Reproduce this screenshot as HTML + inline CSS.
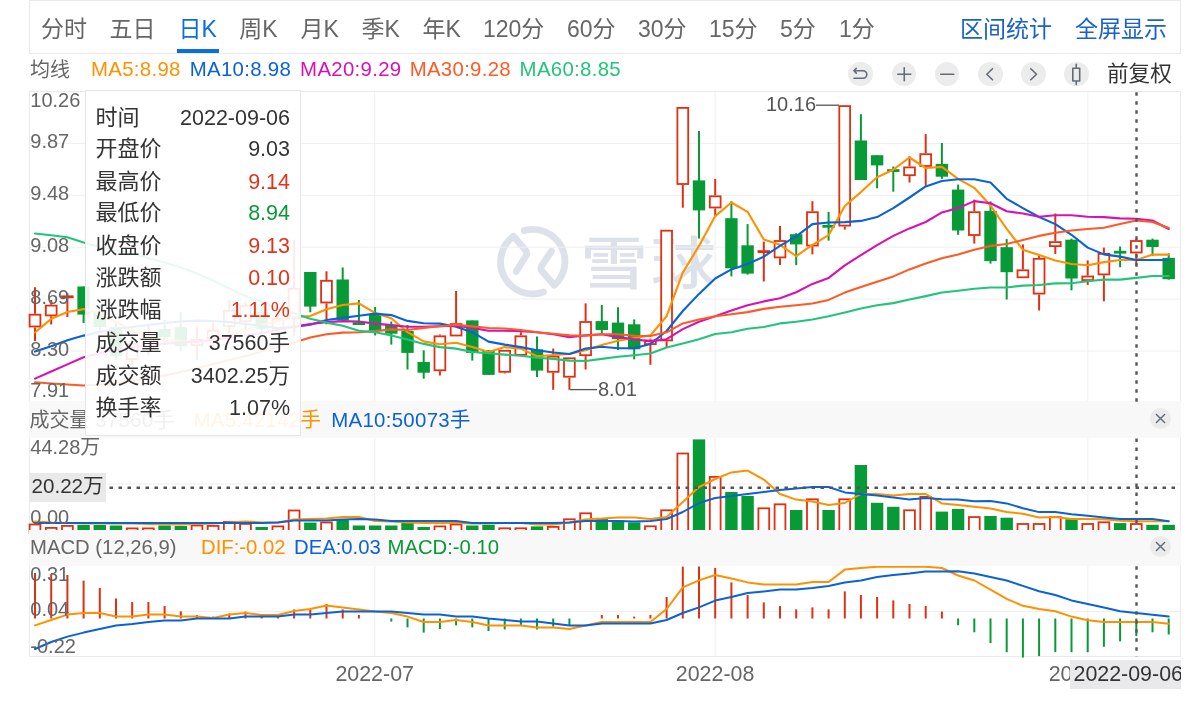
<!DOCTYPE html><html lang="zh-CN"><head><meta charset="utf-8"><title>K线图</title><style>
html,body{margin:0;padding:0;background:#fff;}
body{width:1199px;height:703px;position:relative;overflow:hidden;font-family:'Liberation Sans','Noto Sans CJK SC',sans-serif;color:#666;}
.abs{position:absolute;white-space:nowrap;}
#tabbar{position:absolute;left:29px;top:0px;width:1152px;height:54px;border:1px solid #e9e9ed;box-sizing:border-box;}
.tab{position:absolute;top:13.2px;font-size:23px;line-height:32px;color:#666;white-space:nowrap;}
.tab.on{color:#0a6fdc;}
.lnk{position:absolute;top:13.2px;font-size:23px;line-height:32px;color:#1a62c6;white-space:nowrap;}
.lg{position:absolute;font-size:20.4px;line-height:26px;white-space:nowrap;letter-spacing:0.3px;}
.lg2{letter-spacing:0 !important;}
.yl{position:absolute;left:30.3px;font-size:20px;line-height:22px;color:#666;white-space:nowrap;}
.hdr{position:absolute;left:29px;width:1152px;background:#f8f8f8;}
.ic{position:absolute;top:61.5px;width:24.5px;height:24.5px;border-radius:50%;background:#ececec;}
.ic svg{position:absolute;left:0;top:0;}
.cl{position:absolute;left:1150px;width:21px;height:21px;border-radius:50%;background:#ebebeb;}
#tip{position:absolute;left:85px;top:90px;width:216px;height:346px;box-sizing:border-box;border:1px solid #e6e6ea;background:rgba(255,255,255,0.9);}
#tip .r{position:absolute;left:10.5px;right:10px;height:32px;font-size:21.5px;line-height:32px;color:#333;}
#tip .r b{font-weight:400;position:absolute;right:0;top:0;}
#tip .r i{font-style:normal;position:absolute;left:-1px;top:0;font-size:22px;}
.red{color:#e0341a !important;} .grn{color:#089a36 !important;}
</style></head><body>
<div id="tabbar"></div>
<div class="tab" style="left:41px">分时</div>
<div class="tab" style="left:109.5px">五日</div>
<div class="tab on" style="left:178.5px">日K</div>
<div class="tab" style="left:239.3px">周K</div>
<div class="tab" style="left:300.5px">月K</div>
<div class="tab" style="left:361.5px">季K</div>
<div class="tab" style="left:422.5px">年K</div>
<div class="tab" style="left:483px">120分</div>
<div class="tab" style="left:567px">60分</div>
<div class="tab" style="left:638px">30分</div>
<div class="tab" style="left:709px">15分</div>
<div class="tab" style="left:780px">5分</div>
<div class="tab" style="left:839px">1分</div>
<div class="abs" style="left:177px;top:48.5px;width:41.7px;height:4.7px;background:#0a6fdc"></div>
<div class="lnk" style="left:960px">区间统计</div><div class="lnk" style="left:1075px">全屏显示</div>
<div class="lg" style="left:30px;top:56.5px;color:#666;font-size:20px;letter-spacing:0">均线</div>
<div class="lg" style="left:91px;top:56px;color:#ff9100">MA5:8.98</div>
<div class="lg" style="left:189.8px;top:56px;color:#0b62d6">MA10:8.98</div>
<div class="lg" style="left:300.1px;top:56px;color:#d712b4">MA20:9.29</div>
<div class="lg" style="left:409.7px;top:56px;color:#ff5a26">MA30:9.28</div>
<div class="lg" style="left:519.6px;top:56px;color:#22c47c">MA60:8.85</div>
<div class="ic" style="left:848.45px"><svg width="24.5" height="24.5" viewBox="0 0 24.5 24.5" fill="none" stroke="#626b78" stroke-width="1.6" stroke-linecap="round" stroke-linejoin="round"><path d="M6 8.7 H15 A3.8 3.8 0 0 1 15 16.3 H6 M8.3 6.3 L5.9 8.7 L8.3 11.1" /></svg></div>
<div class="ic" style="left:891.55px"><svg width="24.5" height="24.5" viewBox="0 0 24.5 24.5" fill="none" stroke="#626b78" stroke-width="1.6" stroke-linecap="round" stroke-linejoin="round"><path d="M12.25 5.75 V18.75 M5.75 12.25 H18.75"/></svg></div>
<div class="ic" style="left:934.55px"><svg width="24.5" height="24.5" viewBox="0 0 24.5 24.5" fill="none" stroke="#626b78" stroke-width="1.6" stroke-linecap="round" stroke-linejoin="round"><path d="M5.75 12.25 H18.75"/></svg></div>
<div class="ic" style="left:978.15px"><svg width="24.5" height="24.5" viewBox="0 0 24.5 24.5" fill="none" stroke="#626b78" stroke-width="1.6" stroke-linecap="round" stroke-linejoin="round"><path d="M14.5 6.7 L8.8 12.25 L14.5 17.8"/></svg></div>
<div class="ic" style="left:1021.45px"><svg width="24.5" height="24.5" viewBox="0 0 24.5 24.5" fill="none" stroke="#626b78" stroke-width="1.6" stroke-linecap="round" stroke-linejoin="round"><path d="M9.8 6.7 L15.5 12.25 L9.8 17.8"/></svg></div>
<div class="ic" style="left:1064.45px"><svg width="24.5" height="24.5" viewBox="0 0 24.5 24.5" fill="none" stroke="#626b78" stroke-width="1.6" stroke-linecap="round" stroke-linejoin="round"><path d="M12.25 2.3 V6.3 M12.25 19 V22.6 M8.8 6.3 H15.7 V19 H8.8 Z"/></svg></div>
<div class="abs" style="left:1107px;top:59px;font-size:21.6px;line-height:30px;color:#333">前复权</div>
<svg class="abs" style="left:0;top:0" width="1199" height="703" viewBox="0 0 1199 703">
<g fill="none" stroke="#dde1ea" stroke-width="6.8" stroke-linecap="round" stroke-linejoin="round">
<path transform="translate(1.2,-0.8)" d="M542.3 292.8 A32 32 0 0 1 512.2 237.1 L524.2 250.8 Q526.8 253.6 524.6 257 L515 272.3"/>
<path transform="translate(1.2,-0.8)" d="M523 231.4 A32 32 0 0 1 553.1 286 L541.1 272.4 Q538.5 269.6 540.7 266.2 L550.3 251.9"/>
</g>
<g font-size="57" font-weight="500" fill="#dde1ea" font-family="'Liberation Sans','Noto Sans CJK SC',sans-serif"><text transform="translate(580.5,283.5) scale(1.18,1)">雪</text><text transform="translate(651,283.5) scale(1.14,1)">球</text></g>
<line x1="30" y1="143.4" x2="1181" y2="143.4" stroke="#efeff1" stroke-width="1"/>
<line x1="30" y1="195.3" x2="1181" y2="195.3" stroke="#efeff1" stroke-width="1"/>
<line x1="30" y1="247.2" x2="1181" y2="247.2" stroke="#efeff1" stroke-width="1"/>
<line x1="30" y1="299.1" x2="1181" y2="299.1" stroke="#efeff1" stroke-width="1"/>
<line x1="30" y1="351" x2="1181" y2="351" stroke="#efeff1" stroke-width="1"/>
<line x1="374.7" y1="91.5" x2="374.7" y2="403" stroke="#efeff1" stroke-width="1"/>
<line x1="374.7" y1="438.5" x2="374.7" y2="530" stroke="#efeff1" stroke-width="1"/>
<line x1="374.7" y1="566" x2="374.7" y2="656.5" stroke="#efeff1" stroke-width="1"/>
<line x1="715.1" y1="91.5" x2="715.1" y2="403" stroke="#efeff1" stroke-width="1"/>
<line x1="715.1" y1="438.5" x2="715.1" y2="530" stroke="#efeff1" stroke-width="1"/>
<line x1="715.1" y1="566" x2="715.1" y2="656.5" stroke="#efeff1" stroke-width="1"/>
<line x1="1087.9" y1="91.5" x2="1087.9" y2="403" stroke="#efeff1" stroke-width="1"/>
<line x1="1087.9" y1="438.5" x2="1087.9" y2="530" stroke="#efeff1" stroke-width="1"/>
<line x1="1087.9" y1="566" x2="1087.9" y2="656.5" stroke="#efeff1" stroke-width="1"/>
<line x1="30" y1="484" x2="1181" y2="484" stroke="#efeff1"/>
<line x1="30" y1="611.5" x2="1181" y2="611.5" stroke="#efeff1"/>
<rect x="29.5" y="91.5" width="1151" height="565" fill="none" stroke="#eaeaed" stroke-width="1"/>
<line x1="35" y1="287.3" x2="35" y2="313.8" stroke="#df3012" stroke-width="2"/>
<line x1="35" y1="327.4" x2="35" y2="341" stroke="#df3012" stroke-width="2"/>
<rect x="29.6" y="314.7" width="10.8" height="11.8" fill="#fff" stroke="#df3012" stroke-width="1.8"/>
<line x1="51.2" y1="300" x2="51.2" y2="304.7" stroke="#df3012" stroke-width="2"/>
<line x1="51.2" y1="316.3" x2="51.2" y2="324.5" stroke="#df3012" stroke-width="2"/>
<rect x="45.8" y="305.6" width="10.8" height="9.8" fill="#fff" stroke="#df3012" stroke-width="1.8"/>
<line x1="67.4" y1="293" x2="67.4" y2="296" stroke="#df3012" stroke-width="2"/>
<line x1="67.4" y1="297.6" x2="67.4" y2="317" stroke="#df3012" stroke-width="2"/>
<rect x="61.2" y="295.4" width="12.4" height="2.8" fill="#df3012"/>
<line x1="83.6" y1="286.5" x2="83.6" y2="323" stroke="#089a36" stroke-width="2"/>
<rect x="77.4" y="286.5" width="12.4" height="28.1" fill="#089a36"/>
<line x1="99.8" y1="305" x2="99.8" y2="332" stroke="#089a36" stroke-width="2"/>
<rect x="93.6" y="312" width="12.4" height="15" fill="#089a36"/>
<line x1="116" y1="322" x2="116" y2="360" stroke="#089a36" stroke-width="2"/>
<rect x="109.8" y="327" width="12.4" height="29" fill="#089a36"/>
<line x1="132.2" y1="338" x2="132.2" y2="343" stroke="#df3012" stroke-width="2"/>
<line x1="132.2" y1="360" x2="132.2" y2="365" stroke="#df3012" stroke-width="2"/>
<rect x="126.8" y="343.9" width="10.8" height="15.2" fill="#fff" stroke="#df3012" stroke-width="1.8"/>
<line x1="148.4" y1="325" x2="148.4" y2="335" stroke="#df3012" stroke-width="2"/>
<line x1="148.4" y1="350" x2="148.4" y2="355" stroke="#df3012" stroke-width="2"/>
<rect x="143" y="335.9" width="10.8" height="13.2" fill="#fff" stroke="#df3012" stroke-width="1.8"/>
<line x1="164.6" y1="320" x2="164.6" y2="345" stroke="#089a36" stroke-width="2"/>
<rect x="158.4" y="329" width="12.4" height="8" fill="#089a36"/>
<line x1="180.8" y1="312" x2="180.8" y2="351" stroke="#089a36" stroke-width="2"/>
<rect x="174.6" y="327" width="12.4" height="19" fill="#089a36"/>
<line x1="196.9" y1="327" x2="196.9" y2="339" stroke="#df3012" stroke-width="2"/>
<line x1="196.9" y1="346" x2="196.9" y2="360" stroke="#df3012" stroke-width="2"/>
<rect x="191.6" y="339.9" width="10.8" height="5.2" fill="#fff" stroke="#df3012" stroke-width="1.8"/>
<line x1="213.1" y1="322" x2="213.1" y2="330" stroke="#df3012" stroke-width="2"/>
<line x1="213.1" y1="340" x2="213.1" y2="348" stroke="#df3012" stroke-width="2"/>
<rect x="207.7" y="330.9" width="10.8" height="8.2" fill="#fff" stroke="#df3012" stroke-width="1.8"/>
<line x1="229.3" y1="300" x2="229.3" y2="310" stroke="#df3012" stroke-width="2"/>
<line x1="229.3" y1="327" x2="229.3" y2="335" stroke="#df3012" stroke-width="2"/>
<rect x="223.9" y="310.9" width="10.8" height="15.2" fill="#fff" stroke="#df3012" stroke-width="1.8"/>
<line x1="245.5" y1="302" x2="245.5" y2="305" stroke="#df3012" stroke-width="2"/>
<line x1="245.5" y1="322" x2="245.5" y2="330" stroke="#df3012" stroke-width="2"/>
<rect x="240.1" y="305.9" width="10.8" height="15.2" fill="#fff" stroke="#df3012" stroke-width="1.8"/>
<line x1="261.7" y1="305" x2="261.7" y2="335" stroke="#089a36" stroke-width="2"/>
<rect x="255.5" y="312" width="12.4" height="17" fill="#089a36"/>
<line x1="277.9" y1="310" x2="277.9" y2="318" stroke="#df3012" stroke-width="2"/>
<line x1="277.9" y1="330" x2="277.9" y2="338" stroke="#df3012" stroke-width="2"/>
<rect x="272.5" y="318.9" width="10.8" height="10.2" fill="#fff" stroke="#df3012" stroke-width="1.8"/>
<line x1="294.1" y1="240" x2="294.1" y2="288" stroke="#df3012" stroke-width="2"/>
<line x1="294.1" y1="319" x2="294.1" y2="336" stroke="#df3012" stroke-width="2"/>
<rect x="288.7" y="288.9" width="10.8" height="29.2" fill="#fff" stroke="#df3012" stroke-width="1.8"/>
<line x1="310.3" y1="272" x2="310.3" y2="312.3" stroke="#089a36" stroke-width="2"/>
<rect x="304.1" y="272" width="12.4" height="34.6" fill="#089a36"/>
<line x1="326.5" y1="271.3" x2="326.5" y2="279.9" stroke="#df3012" stroke-width="2"/>
<line x1="326.5" y1="303.4" x2="326.5" y2="324.3" stroke="#df3012" stroke-width="2"/>
<rect x="321.1" y="280.8" width="10.8" height="21.7" fill="#fff" stroke="#df3012" stroke-width="1.8"/>
<line x1="342.7" y1="267.5" x2="342.7" y2="320.4" stroke="#089a36" stroke-width="2"/>
<rect x="336.5" y="279.5" width="12.4" height="40.9" fill="#089a36"/>
<line x1="358.9" y1="300" x2="358.9" y2="324.7" stroke="#089a36" stroke-width="2"/>
<rect x="352.7" y="322.2" width="12.4" height="2.8" fill="#089a36"/>
<line x1="375.1" y1="307" x2="375.1" y2="335.4" stroke="#089a36" stroke-width="2"/>
<rect x="368.9" y="315" width="12.4" height="15.7" fill="#089a36"/>
<line x1="391.3" y1="321.5" x2="391.3" y2="344.6" stroke="#089a36" stroke-width="2"/>
<rect x="385.1" y="324.7" width="12.4" height="9" fill="#089a36"/>
<line x1="407.5" y1="325" x2="407.5" y2="369.5" stroke="#089a36" stroke-width="2"/>
<rect x="401.3" y="331" width="12.4" height="21.9" fill="#089a36"/>
<line x1="423.7" y1="350.3" x2="423.7" y2="378.7" stroke="#089a36" stroke-width="2"/>
<rect x="417.5" y="362" width="12.4" height="10.7" fill="#089a36"/>
<line x1="439.9" y1="334.5" x2="439.9" y2="335.4" stroke="#df3012" stroke-width="2"/>
<line x1="439.9" y1="371.2" x2="439.9" y2="375.5" stroke="#df3012" stroke-width="2"/>
<rect x="434.5" y="336.3" width="10.8" height="34" fill="#fff" stroke="#df3012" stroke-width="1.8"/>
<line x1="456.1" y1="291" x2="456.1" y2="323.2" stroke="#df3012" stroke-width="2"/>
<rect x="450.7" y="324.1" width="10.8" height="11.4" fill="#fff" stroke="#df3012" stroke-width="1.8"/>
<line x1="472.3" y1="320.4" x2="472.3" y2="360.6" stroke="#089a36" stroke-width="2"/>
<rect x="466.1" y="320.4" width="12.4" height="32.5" fill="#089a36"/>
<line x1="488.5" y1="350.3" x2="488.5" y2="374.9" stroke="#089a36" stroke-width="2"/>
<rect x="482.3" y="350.3" width="12.4" height="24.6" fill="#089a36"/>
<line x1="504.7" y1="372.7" x2="504.7" y2="373.5" stroke="#df3012" stroke-width="2"/>
<rect x="499.3" y="350.8" width="10.8" height="21" fill="#fff" stroke="#df3012" stroke-width="1.8"/>
<line x1="520.9" y1="332.2" x2="520.9" y2="335.4" stroke="#df3012" stroke-width="2"/>
<rect x="515.4" y="336.3" width="10.8" height="18.5" fill="#fff" stroke="#df3012" stroke-width="1.8"/>
<line x1="537" y1="336.4" x2="537" y2="377" stroke="#089a36" stroke-width="2"/>
<rect x="530.8" y="349.3" width="12.4" height="21.3" fill="#089a36"/>
<line x1="553.2" y1="348.6" x2="553.2" y2="355.7" stroke="#df3012" stroke-width="2"/>
<line x1="553.2" y1="372.7" x2="553.2" y2="389.8" stroke="#df3012" stroke-width="2"/>
<rect x="547.8" y="356.6" width="10.8" height="15.2" fill="#fff" stroke="#df3012" stroke-width="1.8"/>
<line x1="569.4" y1="377.6" x2="569.4" y2="389.8" stroke="#df3012" stroke-width="2"/>
<rect x="564" y="358.3" width="10.8" height="18.4" fill="#fff" stroke="#df3012" stroke-width="1.8"/>
<line x1="585.6" y1="303.4" x2="585.6" y2="321.1" stroke="#df3012" stroke-width="2"/>
<line x1="585.6" y1="356.1" x2="585.6" y2="369.5" stroke="#df3012" stroke-width="2"/>
<rect x="580.2" y="322" width="10.8" height="33.2" fill="#fff" stroke="#df3012" stroke-width="1.8"/>
<line x1="601.8" y1="305" x2="601.8" y2="333.2" stroke="#089a36" stroke-width="2"/>
<rect x="595.6" y="321.1" width="12.4" height="8.9" fill="#089a36"/>
<line x1="618" y1="307.2" x2="618" y2="349.9" stroke="#089a36" stroke-width="2"/>
<rect x="611.8" y="322.6" width="12.4" height="16.6" fill="#089a36"/>
<line x1="634.2" y1="319.4" x2="634.2" y2="359.3" stroke="#089a36" stroke-width="2"/>
<rect x="628" y="324.3" width="12.4" height="25" fill="#089a36"/>
<line x1="650.4" y1="338.6" x2="650.4" y2="339.6" stroke="#df3012" stroke-width="2"/>
<line x1="650.4" y1="345" x2="650.4" y2="364.8" stroke="#df3012" stroke-width="2"/>
<rect x="645" y="340.5" width="10.8" height="3.6" fill="#fff" stroke="#df3012" stroke-width="1.8"/>
<line x1="666.6" y1="341.3" x2="666.6" y2="347" stroke="#df3012" stroke-width="2"/>
<rect x="661.2" y="230.7" width="10.8" height="109.7" fill="#fff" stroke="#df3012" stroke-width="1.8"/>
<line x1="682.8" y1="184.9" x2="682.8" y2="207.7" stroke="#df3012" stroke-width="2"/>
<rect x="677.4" y="107.9" width="10.8" height="76.1" fill="#fff" stroke="#df3012" stroke-width="1.8"/>
<line x1="699" y1="130.9" x2="699" y2="238.4" stroke="#089a36" stroke-width="2"/>
<rect x="692.8" y="180.4" width="12.4" height="30" fill="#089a36"/>
<line x1="715.2" y1="178.9" x2="715.2" y2="195.4" stroke="#df3012" stroke-width="2"/>
<line x1="715.2" y1="208.4" x2="715.2" y2="216.5" stroke="#df3012" stroke-width="2"/>
<rect x="709.8" y="196.3" width="10.8" height="11.2" fill="#fff" stroke="#df3012" stroke-width="1.8"/>
<line x1="731.4" y1="201.2" x2="731.4" y2="276.4" stroke="#089a36" stroke-width="2"/>
<rect x="725.2" y="218.2" width="12.4" height="50.1" fill="#089a36"/>
<line x1="747.6" y1="224.1" x2="747.6" y2="274.7" stroke="#089a36" stroke-width="2"/>
<rect x="741.4" y="245.3" width="12.4" height="28.3" fill="#089a36"/>
<line x1="763.8" y1="241.6" x2="763.8" y2="250.5" stroke="#df3012" stroke-width="2"/>
<line x1="763.8" y1="252.6" x2="763.8" y2="281.5" stroke="#df3012" stroke-width="2"/>
<rect x="757.6" y="250.2" width="12.4" height="2.8" fill="#df3012"/>
<line x1="780" y1="226.1" x2="780" y2="240.1" stroke="#df3012" stroke-width="2"/>
<line x1="780" y1="258.3" x2="780" y2="265.1" stroke="#df3012" stroke-width="2"/>
<rect x="774.6" y="241" width="10.8" height="16.4" fill="#fff" stroke="#df3012" stroke-width="1.8"/>
<line x1="796.2" y1="233.2" x2="796.2" y2="265.1" stroke="#089a36" stroke-width="2"/>
<rect x="790" y="234.2" width="12.4" height="10.2" fill="#089a36"/>
<line x1="812.4" y1="201.2" x2="812.4" y2="211.3" stroke="#df3012" stroke-width="2"/>
<line x1="812.4" y1="246.5" x2="812.4" y2="254.4" stroke="#df3012" stroke-width="2"/>
<rect x="807" y="212.2" width="10.8" height="33.4" fill="#fff" stroke="#df3012" stroke-width="1.8"/>
<line x1="828.6" y1="211.8" x2="828.6" y2="240.6" stroke="#089a36" stroke-width="2"/>
<rect x="822.4" y="224.9" width="12.4" height="2.8" fill="#089a36"/>
<line x1="844.8" y1="226.5" x2="844.8" y2="229.6" stroke="#df3012" stroke-width="2"/>
<rect x="839.3" y="106.1" width="10.8" height="119.5" fill="#fff" stroke="#df3012" stroke-width="1.8"/>
<line x1="860.9" y1="114.2" x2="860.9" y2="180" stroke="#089a36" stroke-width="2"/>
<rect x="854.7" y="140.5" width="12.4" height="39.5" fill="#089a36"/>
<line x1="877.1" y1="155.2" x2="877.1" y2="188.3" stroke="#089a36" stroke-width="2"/>
<rect x="870.9" y="155.2" width="12.4" height="10.2" fill="#089a36"/>
<line x1="893.3" y1="166.5" x2="893.3" y2="191.7" stroke="#089a36" stroke-width="2"/>
<rect x="887.1" y="169.2" width="12.4" height="2.8" fill="#089a36"/>
<line x1="909.5" y1="156.3" x2="909.5" y2="166.5" stroke="#df3012" stroke-width="2"/>
<line x1="909.5" y1="176.1" x2="909.5" y2="182.5" stroke="#df3012" stroke-width="2"/>
<rect x="904.1" y="167.4" width="10.8" height="7.8" fill="#fff" stroke="#df3012" stroke-width="1.8"/>
<line x1="925.7" y1="134.1" x2="925.7" y2="153.3" stroke="#df3012" stroke-width="2"/>
<line x1="925.7" y1="166.9" x2="925.7" y2="185.7" stroke="#df3012" stroke-width="2"/>
<rect x="920.3" y="154.2" width="10.8" height="11.8" fill="#fff" stroke="#df3012" stroke-width="1.8"/>
<line x1="941.9" y1="143" x2="941.9" y2="178.9" stroke="#089a36" stroke-width="2"/>
<rect x="935.7" y="163.9" width="12.4" height="12.8" fill="#089a36"/>
<line x1="958.1" y1="184.6" x2="958.1" y2="234.8" stroke="#089a36" stroke-width="2"/>
<rect x="951.9" y="189.6" width="12.4" height="40.9" fill="#089a36"/>
<line x1="974.3" y1="199.6" x2="974.3" y2="211.3" stroke="#df3012" stroke-width="2"/>
<line x1="974.3" y1="235.9" x2="974.3" y2="243.6" stroke="#df3012" stroke-width="2"/>
<rect x="968.9" y="212.2" width="10.8" height="22.8" fill="#fff" stroke="#df3012" stroke-width="1.8"/>
<line x1="990.5" y1="201.4" x2="990.5" y2="263.6" stroke="#089a36" stroke-width="2"/>
<rect x="984.3" y="210.9" width="12.4" height="50.2" fill="#089a36"/>
<line x1="1006.7" y1="239.1" x2="1006.7" y2="299.5" stroke="#089a36" stroke-width="2"/>
<rect x="1000.5" y="247.2" width="12.4" height="25" fill="#089a36"/>
<line x1="1022.9" y1="244.4" x2="1022.9" y2="269.4" stroke="#df3012" stroke-width="2"/>
<rect x="1017.5" y="270.3" width="10.8" height="7" fill="#fff" stroke="#df3012" stroke-width="1.8"/>
<line x1="1039.1" y1="255" x2="1039.1" y2="257.9" stroke="#df3012" stroke-width="2"/>
<line x1="1039.1" y1="294.5" x2="1039.1" y2="310.5" stroke="#df3012" stroke-width="2"/>
<rect x="1033.7" y="258.8" width="10.8" height="34.8" fill="#fff" stroke="#df3012" stroke-width="1.8"/>
<line x1="1055.3" y1="213.5" x2="1055.3" y2="241.2" stroke="#df3012" stroke-width="2"/>
<line x1="1055.3" y1="247" x2="1055.3" y2="254" stroke="#df3012" stroke-width="2"/>
<rect x="1049.9" y="242.1" width="10.8" height="4" fill="#fff" stroke="#df3012" stroke-width="1.8"/>
<line x1="1071.5" y1="238.6" x2="1071.5" y2="290.3" stroke="#089a36" stroke-width="2"/>
<rect x="1065.3" y="239.7" width="12.4" height="38.8" fill="#089a36"/>
<line x1="1087.7" y1="260.4" x2="1087.7" y2="275.6" stroke="#df3012" stroke-width="2"/>
<line x1="1087.7" y1="281" x2="1087.7" y2="284.9" stroke="#df3012" stroke-width="2"/>
<rect x="1082.3" y="276.5" width="10.8" height="3.6" fill="#fff" stroke="#df3012" stroke-width="1.8"/>
<line x1="1103.9" y1="247.6" x2="1103.9" y2="252.9" stroke="#df3012" stroke-width="2"/>
<line x1="1103.9" y1="275.3" x2="1103.9" y2="301.3" stroke="#df3012" stroke-width="2"/>
<rect x="1098.5" y="253.8" width="10.8" height="20.6" fill="#fff" stroke="#df3012" stroke-width="1.8"/>
<line x1="1120.1" y1="246.5" x2="1120.1" y2="267.2" stroke="#089a36" stroke-width="2"/>
<rect x="1113.9" y="250.8" width="12.4" height="2.8" fill="#089a36"/>
<line x1="1136.3" y1="238.8" x2="1136.3" y2="240.1" stroke="#df3012" stroke-width="2"/>
<line x1="1136.3" y1="253.4" x2="1136.3" y2="265.6" stroke="#df3012" stroke-width="2"/>
<rect x="1130.9" y="241" width="10.8" height="11.5" fill="#fff" stroke="#df3012" stroke-width="1.8"/>
<line x1="1152.5" y1="238.6" x2="1152.5" y2="256.1" stroke="#089a36" stroke-width="2"/>
<rect x="1146.3" y="239.7" width="12.4" height="7.3" fill="#089a36"/>
<line x1="1168.7" y1="253.4" x2="1168.7" y2="279.6" stroke="#089a36" stroke-width="2"/>
<rect x="1162.5" y="257.8" width="12.4" height="21.4" fill="#089a36"/>
<polyline points="35,332.5 51.2,318.9 67.4,312 83.6,309.1 99.8,313 116,322 132.2,331 148.4,337 164.6,340 180.8,341 196.9,342 213.1,340 229.3,336 245.5,330 261.7,325 277.9,321 294.1,317 310.3,316 326.5,309.3 342.7,305 358.9,303.4 375.1,313 391.3,318.3 407.5,332.2 423.7,341.4 439.9,344.3 456.1,342.8 472.3,347.1 488.5,352 504.7,347.1 520.9,348.6 537,356.3 553.2,355 569.4,354 585.6,350.3 601.8,345 618,340.7 634.2,338 650.4,335.4 666.6,316.2 682.8,272.6 699,245.9 715.2,216.1 731.4,202.5 747.6,211.8 763.8,239.5 780,244.8 796.2,256.1 812.4,244.8 828.6,235.2 844.8,206 860.9,192.1 877.1,177.2 893.3,169.7 909.5,157.5 925.7,168 941.9,166.9 958.1,178.9 974.3,187.8 990.5,205.5 1006.7,228.8 1022.9,249.8 1039.1,255.1 1055.3,260.4 1071.5,264 1087.7,265.3 1103.9,262.1 1120.1,260 1136.3,260 1152.5,254.6 1168.7,254.6" fill="none" stroke="#ff9100" stroke-width="2.1" stroke-linejoin="round" stroke-linecap="round"/>
<polyline points="35,351.6 51.2,346.2 67.4,340.2 83.6,335.6 99.8,332 116,329 132.2,327 148.4,325 164.6,323 180.8,321.5 196.9,320.6 213.1,321 229.3,322 245.5,324 261.7,326 277.9,328 294.1,327 310.3,324.7 326.5,320 342.7,317.9 358.9,315.7 375.1,313.6 391.3,315.1 407.5,320.9 423.7,323.2 439.9,323.6 456.1,326.8 472.3,332.2 488.5,341.6 504.7,344.6 520.9,347.1 537,350.3 553.2,352.5 569.4,354 585.6,348.6 601.8,346.7 618,348.2 634.2,348.2 650.4,343.9 666.6,331 682.8,311 699,293.9 715.2,278.5 731.4,269.4 747.6,264 763.8,256.6 780,245.9 796.2,236.3 812.4,224.1 828.6,222.5 844.8,222.1 860.9,220.9 877.1,217.1 893.3,208.1 909.5,197.5 925.7,186.4 941.9,181 958.1,179.3 974.3,179.3 990.5,182.5 1006.7,198.8 1022.9,208.1 1039.1,217 1055.3,224.1 1071.5,234.8 1087.7,247.6 1103.9,254.4 1120.1,256.6 1136.3,260 1152.5,260 1168.7,260" fill="none" stroke="#0b62d6" stroke-width="2.1" stroke-linejoin="round" stroke-linecap="round"/>
<polyline points="35,378.6 51.2,371.5 67.4,364.4 83.6,357.3 99.8,353 116,350 132.2,347.5 148.4,345.5 164.6,343.7 180.8,342.5 196.9,341.3 213.1,340 229.3,338 245.5,335.5 261.7,333 277.9,330 294.1,326.5 310.3,324 326.5,322.1 342.7,321.1 358.9,321.5 375.1,323.6 391.3,325.1 407.5,326.8 423.7,326.8 439.9,326.2 456.1,325.8 472.3,327.9 488.5,330.7 504.7,330.7 520.9,331.1 537,332.2 553.2,334.3 569.4,337.1 585.6,335.4 601.8,334.3 618,337.1 634.2,339.2 650.4,341.4 666.6,339.2 682.8,329.1 699,321.7 715.2,316.3 731.4,310.6 747.6,305.2 763.8,301.4 780,298.2 796.2,292.2 812.4,283.9 828.6,277.9 844.8,265.4 860.9,255.1 877.1,245.1 893.3,235.9 909.5,228.4 925.7,222 941.9,212.4 958.1,208.1 974.3,201.1 990.5,203.2 1006.7,211.3 1022.9,213.5 1039.1,216.7 1055.3,215.2 1071.5,215.2 1087.7,216.7 1103.9,217.1 1120.1,218.4 1136.3,218.8 1152.5,220.5 1168.7,229" fill="none" stroke="#d712b4" stroke-width="2.1" stroke-linejoin="round" stroke-linecap="round"/>
<polyline points="35,382.3 51.2,383.5 67.4,384.5 83.6,385.5 99.8,384.5 116,383 132.2,381 148.4,378.5 164.6,375.5 180.8,372 196.9,368 213.1,364 229.3,360 245.5,356 261.7,351.5 277.9,347 294.1,342.5 310.3,337.5 326.5,334.3 342.7,332.6 358.9,332.2 375.1,331.1 391.3,329.4 407.5,330 423.7,327.9 439.9,326.2 456.1,324.7 472.3,326.4 488.5,328 504.7,328.5 520.9,330 537,332.2 553.2,333.7 569.4,335.4 585.6,335.8 601.8,334.3 618,334.3 634.2,335.8 650.4,336 666.6,332.3 682.8,323.4 699,319.5 715.2,316.3 731.4,314.2 747.6,312.1 763.8,308.9 780,306.7 796.2,305.2 812.4,303.5 828.6,299.9 844.8,292.6 860.9,287.1 877.1,281.8 893.3,276.4 909.5,269.4 925.7,263.6 941.9,258.3 958.1,254.5 974.3,249.8 990.5,245.9 1006.7,244 1022.9,240.1 1039.1,235.9 1055.3,232.7 1071.5,230.5 1087.7,229 1103.9,227.8 1120.1,224.1 1136.3,220.5 1152.5,222 1168.7,228" fill="none" stroke="#ff5a26" stroke-width="2.1" stroke-linejoin="round" stroke-linecap="round"/>
<polyline points="35,233.5 51.2,235.3 67.4,237.3 83.6,242.5 99.8,247 116,250.5 132.2,254 148.4,258 164.6,262.5 180.8,267.5 196.9,273.5 213.1,280.5 229.3,288.5 245.5,296 261.7,302.5 277.9,308.5 294.1,313.5 310.3,318.7 326.5,322.6 342.7,325.8 358.9,330.7 375.1,332.2 391.3,335.4 407.5,339.6 423.7,343.9 439.9,347.1 456.1,348.6 472.3,352 488.5,353.3 504.7,354.6 520.9,355.7 537,357.8 553.2,358.9 569.4,360.6 585.6,361 601.8,358.9 618,356.7 634.2,355.2 650.4,353.5 666.6,347.5 682.8,343.4 699,339.2 715.2,334 731.4,332.3 747.6,328.7 763.8,327 780,323.4 796.2,321.7 812.4,319.5 828.6,316.3 844.8,312.5 860.9,308.5 877.1,305.3 893.3,303.1 909.5,299.5 925.7,296.1 941.9,292.5 958.1,290.7 974.3,288.8 990.5,287.5 1006.7,287.5 1022.9,285.6 1039.1,285 1055.3,283.4 1071.5,283.2 1087.7,281.3 1103.9,279.6 1120.1,279.6 1136.3,277.9 1152.5,276 1168.7,276" fill="none" stroke="#22c47c" stroke-width="2.1" stroke-linejoin="round" stroke-linecap="round"/>
<line x1="816" y1="105.2" x2="839" y2="105.2" stroke="#555" stroke-width="1.3"/>
<line x1="570" y1="389.6" x2="597" y2="389.6" stroke="#555" stroke-width="1.3"/>
<rect x="29.6" y="524.5" width="10.8" height="8.4" fill="#fff" stroke="#df3012" stroke-width="1.8"/>
<rect x="45.8" y="527.9" width="10.8" height="5" fill="#fff" stroke="#df3012" stroke-width="1.8"/>
<rect x="62" y="525.9" width="10.8" height="7" fill="#fff" stroke="#df3012" stroke-width="1.8"/>
<rect x="77.4" y="525" width="12.4" height="5" fill="#089a36"/>
<rect x="93.6" y="525" width="12.4" height="5" fill="#089a36"/>
<rect x="109.8" y="525.5" width="12.4" height="4.5" fill="#089a36"/>
<rect x="126.8" y="528.4" width="10.8" height="4.5" fill="#fff" stroke="#df3012" stroke-width="1.8"/>
<rect x="143" y="528.4" width="10.8" height="4.5" fill="#fff" stroke="#df3012" stroke-width="1.8"/>
<rect x="158.4" y="525.5" width="12.4" height="4.5" fill="#089a36"/>
<rect x="174.6" y="526" width="12.4" height="4" fill="#089a36"/>
<rect x="191.6" y="525.5" width="10.8" height="7.4" fill="#fff" stroke="#df3012" stroke-width="1.8"/>
<rect x="207.7" y="525.9" width="10.8" height="7" fill="#fff" stroke="#df3012" stroke-width="1.8"/>
<rect x="223.9" y="521.9" width="10.8" height="11" fill="#fff" stroke="#df3012" stroke-width="1.8"/>
<rect x="240.1" y="523.9" width="10.8" height="9" fill="#fff" stroke="#df3012" stroke-width="1.8"/>
<rect x="255.5" y="527" width="12.4" height="3" fill="#089a36"/>
<rect x="272.5" y="526.4" width="10.8" height="6.5" fill="#fff" stroke="#df3012" stroke-width="1.8"/>
<rect x="288.7" y="510.5" width="10.8" height="22.4" fill="#fff" stroke="#df3012" stroke-width="1.8"/>
<rect x="304.1" y="522.6" width="12.4" height="7.4" fill="#089a36"/>
<rect x="321.1" y="522.5" width="10.8" height="10.4" fill="#fff" stroke="#df3012" stroke-width="1.8"/>
<rect x="336.5" y="520" width="12.4" height="10" fill="#089a36"/>
<rect x="352.7" y="525.5" width="12.4" height="4.5" fill="#089a36"/>
<rect x="368.9" y="525.5" width="12.4" height="4.5" fill="#089a36"/>
<rect x="385.1" y="525.5" width="12.4" height="4.5" fill="#089a36"/>
<rect x="401.3" y="521.6" width="12.4" height="8.4" fill="#089a36"/>
<rect x="417.5" y="527" width="12.4" height="3" fill="#089a36"/>
<rect x="434.5" y="526.4" width="10.8" height="6.5" fill="#fff" stroke="#df3012" stroke-width="1.8"/>
<rect x="450.7" y="524.5" width="10.8" height="8.4" fill="#fff" stroke="#df3012" stroke-width="1.8"/>
<rect x="466.1" y="525.5" width="12.4" height="4.5" fill="#089a36"/>
<rect x="482.3" y="524.8" width="12.4" height="5.2" fill="#089a36"/>
<rect x="499.3" y="528.3" width="10.8" height="4.6" fill="#fff" stroke="#df3012" stroke-width="1.8"/>
<rect x="515.4" y="528.3" width="10.8" height="4.6" fill="#fff" stroke="#df3012" stroke-width="1.8"/>
<rect x="530.8" y="526.4" width="12.4" height="3.6" fill="#089a36"/>
<rect x="547.8" y="526.9" width="10.8" height="6" fill="#fff" stroke="#df3012" stroke-width="1.8"/>
<rect x="564" y="519.3" width="10.8" height="13.6" fill="#fff" stroke="#df3012" stroke-width="1.8"/>
<rect x="580.2" y="513.3" width="10.8" height="19.6" fill="#fff" stroke="#df3012" stroke-width="1.8"/>
<rect x="595.6" y="518.4" width="12.4" height="11.6" fill="#089a36"/>
<rect x="611.8" y="520.4" width="12.4" height="9.6" fill="#089a36"/>
<rect x="628" y="522.4" width="12.4" height="7.6" fill="#089a36"/>
<rect x="645" y="526.3" width="10.8" height="6.6" fill="#fff" stroke="#df3012" stroke-width="1.8"/>
<rect x="661.2" y="510.3" width="10.8" height="22.6" fill="#fff" stroke="#df3012" stroke-width="1.8"/>
<rect x="677.4" y="453.5" width="10.8" height="79.4" fill="#fff" stroke="#df3012" stroke-width="1.8"/>
<rect x="692.8" y="439.4" width="12.4" height="90.6" fill="#089a36"/>
<rect x="709.8" y="476.9" width="10.8" height="56" fill="#fff" stroke="#df3012" stroke-width="1.8"/>
<rect x="725.2" y="492" width="12.4" height="38" fill="#089a36"/>
<rect x="741.4" y="496" width="12.4" height="34" fill="#089a36"/>
<rect x="758.4" y="508.3" width="10.8" height="24.6" fill="#fff" stroke="#df3012" stroke-width="1.8"/>
<rect x="774.6" y="504.3" width="10.8" height="28.6" fill="#fff" stroke="#df3012" stroke-width="1.8"/>
<rect x="790" y="510" width="12.4" height="20" fill="#089a36"/>
<rect x="807" y="499.3" width="10.8" height="33.6" fill="#fff" stroke="#df3012" stroke-width="1.8"/>
<rect x="822.4" y="510" width="12.4" height="20" fill="#089a36"/>
<rect x="839.3" y="499.3" width="10.8" height="33.6" fill="#fff" stroke="#df3012" stroke-width="1.8"/>
<rect x="854.7" y="465" width="12.4" height="65" fill="#089a36"/>
<rect x="870.9" y="502.8" width="12.4" height="27.2" fill="#089a36"/>
<rect x="887.1" y="506.8" width="12.4" height="23.2" fill="#089a36"/>
<rect x="904.1" y="510.3" width="10.8" height="22.6" fill="#fff" stroke="#df3012" stroke-width="1.8"/>
<rect x="920.3" y="496.9" width="10.8" height="36" fill="#fff" stroke="#df3012" stroke-width="1.8"/>
<rect x="935.7" y="511.6" width="12.4" height="18.4" fill="#089a36"/>
<rect x="951.9" y="509" width="12.4" height="21" fill="#089a36"/>
<rect x="968.9" y="517.1" width="10.8" height="15.8" fill="#fff" stroke="#df3012" stroke-width="1.8"/>
<rect x="984.3" y="516" width="12.4" height="14" fill="#089a36"/>
<rect x="1000.5" y="517.7" width="12.4" height="12.3" fill="#089a36"/>
<rect x="1017.5" y="524" width="10.8" height="8.9" fill="#fff" stroke="#df3012" stroke-width="1.8"/>
<rect x="1033.7" y="524" width="10.8" height="8.9" fill="#fff" stroke="#df3012" stroke-width="1.8"/>
<rect x="1049.9" y="517.1" width="10.8" height="15.8" fill="#fff" stroke="#df3012" stroke-width="1.8"/>
<rect x="1065.3" y="519.2" width="12.4" height="10.8" fill="#089a36"/>
<rect x="1082.3" y="524" width="10.8" height="8.9" fill="#fff" stroke="#df3012" stroke-width="1.8"/>
<rect x="1098.5" y="522.3" width="10.8" height="10.6" fill="#fff" stroke="#df3012" stroke-width="1.8"/>
<rect x="1113.9" y="523.1" width="12.4" height="6.9" fill="#089a36"/>
<rect x="1130.9" y="524" width="10.8" height="8.9" fill="#fff" stroke="#df3012" stroke-width="1.8"/>
<rect x="1146.3" y="524.8" width="12.4" height="5.2" fill="#089a36"/>
<rect x="1162.5" y="524.8" width="12.4" height="5.2" fill="#089a36"/>
<polyline points="35,521.5 51.2,522.5 67.4,523 83.6,523.5 99.8,523.5 116,523.5 132.2,523.5 148.4,524 164.6,524.3 180.8,524.5 196.9,524 213.1,523.5 229.3,522.5 245.5,521.5 261.7,522.4 277.9,522.4 294.1,519.4 310.3,519 326.5,518.6 342.7,517 358.9,517 375.1,521 391.3,521.4 407.5,522.4 423.7,523 439.9,523 456.1,523 472.3,523.4 488.5,523.4 504.7,523 520.9,523 537,524.4 553.2,524.4 569.4,522.4 585.6,519.4 601.8,518.6 618,517.4 634.2,517.4 650.4,519 666.6,517 682.8,502 699,487 715.2,479 731.4,472.4 747.6,470.6 763.8,479.6 780,494 796.2,499.6 812.4,501.6 828.6,505 844.8,503 860.9,494 877.1,494 893.3,495.6 909.5,494 925.7,494 941.9,503.4 958.1,505 974.3,506.7 990.5,508.4 1006.7,512 1022.9,513.8 1039.1,517.5 1055.3,517 1071.5,519 1087.7,519 1103.9,519.2 1120.1,520.7 1136.3,521.2 1152.5,521.2 1168.7,521.2" fill="none" stroke="#ff9100" stroke-width="2.0" stroke-linejoin="round" stroke-linecap="round"/>
<polyline points="35,523 51.2,523 67.4,523 83.6,523 99.8,523 116,523 132.2,523 148.4,523 164.6,523 180.8,523 196.9,523 213.1,523 229.3,523 245.5,523 261.7,523 277.9,522.6 294.1,520.6 310.3,520.6 326.5,520.6 342.7,519.4 358.9,519 375.1,519.4 391.3,521 407.5,521 423.7,521 439.9,521 456.1,521 472.3,523 488.5,523 504.7,523 520.9,523 537,523 553.2,523 569.4,522.6 585.6,521 601.8,521 618,521 634.2,521.4 650.4,521 666.6,519 682.8,512 699,503 715.2,498 731.4,496 747.6,494 763.8,492 780,490 796.2,488.4 812.4,487 828.6,487 844.8,492.4 860.9,494 877.1,495.6 893.3,497.6 909.5,499.6 925.7,498 941.9,499.3 958.1,499.6 974.3,501.3 990.5,500.9 1006.7,503.4 1022.9,508.2 1039.1,512.1 1055.3,512.1 1071.5,514.2 1087.7,515.8 1103.9,517.5 1120.1,519 1136.3,519 1152.5,519 1168.7,521.2" fill="none" stroke="#0b62d6" stroke-width="2.0" stroke-linejoin="round" stroke-linecap="round"/>
<line x1="109.5" y1="487.8" x2="1178" y2="487.8" stroke="#555" stroke-width="2.4" stroke-dasharray="3.5 5.5"/>
<line x1="35" y1="618.5" x2="35" y2="573" stroke="#df3012" stroke-width="2"/>
<line x1="51.2" y1="618.5" x2="51.2" y2="574" stroke="#df3012" stroke-width="2"/>
<line x1="67.4" y1="618.5" x2="67.4" y2="575" stroke="#df3012" stroke-width="2"/>
<line x1="83.6" y1="618.5" x2="83.6" y2="580.6" stroke="#df3012" stroke-width="2"/>
<line x1="99.8" y1="618.5" x2="99.8" y2="588" stroke="#df3012" stroke-width="2"/>
<line x1="116" y1="618.5" x2="116" y2="598.6" stroke="#df3012" stroke-width="2"/>
<line x1="132.2" y1="618.5" x2="132.2" y2="602" stroke="#df3012" stroke-width="2"/>
<line x1="148.4" y1="618.5" x2="148.4" y2="602" stroke="#df3012" stroke-width="2"/>
<line x1="164.6" y1="618.5" x2="164.6" y2="606" stroke="#df3012" stroke-width="2"/>
<line x1="180.8" y1="618.5" x2="180.8" y2="611.4" stroke="#df3012" stroke-width="2"/>
<line x1="196.9" y1="618.5" x2="196.9" y2="615" stroke="#df3012" stroke-width="2"/>
<line x1="213.1" y1="618.5" x2="213.1" y2="616.6" stroke="#df3012" stroke-width="2"/>
<line x1="229.3" y1="618.5" x2="229.3" y2="613.4" stroke="#df3012" stroke-width="2"/>
<line x1="245.5" y1="618.5" x2="245.5" y2="611.6" stroke="#df3012" stroke-width="2"/>
<line x1="261.7" y1="618.5" x2="261.7" y2="615" stroke="#df3012" stroke-width="2"/>
<line x1="277.9" y1="618.5" x2="277.9" y2="616" stroke="#df3012" stroke-width="2"/>
<line x1="294.1" y1="618.5" x2="294.1" y2="609.4" stroke="#df3012" stroke-width="2"/>
<line x1="310.3" y1="618.5" x2="310.3" y2="610" stroke="#df3012" stroke-width="2"/>
<line x1="326.5" y1="618.5" x2="326.5" y2="604" stroke="#df3012" stroke-width="2"/>
<line x1="342.7" y1="618.5" x2="342.7" y2="609.4" stroke="#df3012" stroke-width="2"/>
<line x1="358.9" y1="618.5" x2="358.9" y2="615" stroke="#df3012" stroke-width="2"/>
<line x1="391.3" y1="618.5" x2="391.3" y2="621.6" stroke="#089a36" stroke-width="2"/>
<line x1="407.5" y1="618.5" x2="407.5" y2="627.4" stroke="#089a36" stroke-width="2"/>
<line x1="423.7" y1="618.5" x2="423.7" y2="632.6" stroke="#089a36" stroke-width="2"/>
<line x1="439.9" y1="618.5" x2="439.9" y2="629" stroke="#089a36" stroke-width="2"/>
<line x1="456.1" y1="618.5" x2="456.1" y2="625.4" stroke="#089a36" stroke-width="2"/>
<line x1="472.3" y1="618.5" x2="472.3" y2="627.4" stroke="#089a36" stroke-width="2"/>
<line x1="488.5" y1="618.5" x2="488.5" y2="631" stroke="#089a36" stroke-width="2"/>
<line x1="504.7" y1="618.5" x2="504.7" y2="629.4" stroke="#089a36" stroke-width="2"/>
<line x1="520.9" y1="618.5" x2="520.9" y2="625.4" stroke="#089a36" stroke-width="2"/>
<line x1="537" y1="618.5" x2="537" y2="629.4" stroke="#089a36" stroke-width="2"/>
<line x1="553.2" y1="618.5" x2="553.2" y2="626.6" stroke="#089a36" stroke-width="2"/>
<line x1="569.4" y1="618.5" x2="569.4" y2="625.4" stroke="#089a36" stroke-width="2"/>
<line x1="601.8" y1="618.5" x2="601.8" y2="615" stroke="#df3012" stroke-width="2"/>
<line x1="618" y1="618.5" x2="618" y2="615" stroke="#df3012" stroke-width="2"/>
<line x1="634.2" y1="618.5" x2="634.2" y2="616.6" stroke="#df3012" stroke-width="2"/>
<line x1="650.4" y1="618.5" x2="650.4" y2="615" stroke="#df3012" stroke-width="2"/>
<line x1="666.6" y1="618.5" x2="666.6" y2="597" stroke="#df3012" stroke-width="2"/>
<line x1="682.8" y1="618.5" x2="682.8" y2="566.6" stroke="#df3012" stroke-width="2"/>
<line x1="699" y1="618.5" x2="699" y2="566.6" stroke="#df3012" stroke-width="2"/>
<line x1="715.2" y1="618.5" x2="715.2" y2="568" stroke="#df3012" stroke-width="2"/>
<line x1="731.4" y1="618.5" x2="731.4" y2="582.4" stroke="#df3012" stroke-width="2"/>
<line x1="747.6" y1="618.5" x2="747.6" y2="595" stroke="#df3012" stroke-width="2"/>
<line x1="763.8" y1="618.5" x2="763.8" y2="602.4" stroke="#df3012" stroke-width="2"/>
<line x1="780" y1="618.5" x2="780" y2="606" stroke="#df3012" stroke-width="2"/>
<line x1="796.2" y1="618.5" x2="796.2" y2="609.4" stroke="#df3012" stroke-width="2"/>
<line x1="812.4" y1="618.5" x2="812.4" y2="607.4" stroke="#df3012" stroke-width="2"/>
<line x1="828.6" y1="618.5" x2="828.6" y2="609.4" stroke="#df3012" stroke-width="2"/>
<line x1="844.8" y1="618.5" x2="844.8" y2="591.4" stroke="#df3012" stroke-width="2"/>
<line x1="860.9" y1="618.5" x2="860.9" y2="595" stroke="#df3012" stroke-width="2"/>
<line x1="877.1" y1="618.5" x2="877.1" y2="597" stroke="#df3012" stroke-width="2"/>
<line x1="893.3" y1="618.5" x2="893.3" y2="600.4" stroke="#df3012" stroke-width="2"/>
<line x1="909.5" y1="618.5" x2="909.5" y2="604" stroke="#df3012" stroke-width="2"/>
<line x1="925.7" y1="618.5" x2="925.7" y2="606" stroke="#df3012" stroke-width="2"/>
<line x1="941.9" y1="618.5" x2="941.9" y2="611.6" stroke="#df3012" stroke-width="2"/>
<line x1="958.1" y1="618.5" x2="958.1" y2="625.2" stroke="#089a36" stroke-width="2"/>
<line x1="974.3" y1="618.5" x2="974.3" y2="632.3" stroke="#089a36" stroke-width="2"/>
<line x1="990.5" y1="618.5" x2="990.5" y2="643.1" stroke="#089a36" stroke-width="2"/>
<line x1="1006.7" y1="618.5" x2="1006.7" y2="652.2" stroke="#089a36" stroke-width="2"/>
<line x1="1022.9" y1="618.5" x2="1022.9" y2="657.6" stroke="#089a36" stroke-width="2"/>
<line x1="1039.1" y1="618.5" x2="1039.1" y2="656.1" stroke="#089a36" stroke-width="2"/>
<line x1="1055.3" y1="618.5" x2="1055.3" y2="652.2" stroke="#089a36" stroke-width="2"/>
<line x1="1071.5" y1="618.5" x2="1071.5" y2="652.2" stroke="#089a36" stroke-width="2"/>
<line x1="1087.7" y1="618.5" x2="1087.7" y2="652.2" stroke="#089a36" stroke-width="2"/>
<line x1="1103.9" y1="618.5" x2="1103.9" y2="646.8" stroke="#089a36" stroke-width="2"/>
<line x1="1120.1" y1="618.5" x2="1120.1" y2="641.4" stroke="#089a36" stroke-width="2"/>
<line x1="1136.3" y1="618.5" x2="1136.3" y2="636" stroke="#089a36" stroke-width="2"/>
<line x1="1152.5" y1="618.5" x2="1152.5" y2="632.3" stroke="#089a36" stroke-width="2"/>
<line x1="1168.7" y1="618.5" x2="1168.7" y2="634.5" stroke="#089a36" stroke-width="2"/>
<polyline points="35,625.4 51.2,620 67.4,614.6 83.6,613 99.8,613 116,616.6 132.2,616.6 148.4,614.6 164.6,614.6 180.8,616.6 196.9,616.6 213.1,618 229.3,614.6 245.5,613 261.7,615 277.9,615 294.1,611 310.3,609 326.5,605.6 342.7,607.4 358.9,609.4 375.1,611.4 391.3,613 407.5,616.6 423.7,622 439.9,622 456.1,620 472.3,622 488.5,625.4 504.7,625.4 520.9,625.4 537,627.4 553.2,627.4 569.4,629 585.6,625.4 601.8,622 618,622 634.2,622 650.4,622 666.6,609 682.8,587.4 699,580.4 715.2,575 731.4,578.6 747.6,582.4 763.8,584.4 780,584.4 796.2,584.4 812.4,582 828.6,582 844.8,569.6 860.9,568 877.1,566.7 893.3,566.7 909.5,566.7 925.7,566.7 941.9,568 958.1,575.5 974.3,580.5 990.5,589.6 1006.7,598.9 1022.9,605.8 1039.1,609 1055.3,611.2 1071.5,616.6 1087.7,620.2 1103.9,622 1120.1,622 1136.3,622 1152.5,622 1168.7,623.7" fill="none" stroke="#ff9100" stroke-width="2.0" stroke-linejoin="round" stroke-linecap="round"/>
<polyline points="35,649 51.2,642 67.4,636.6 83.6,632.6 99.8,629 116,625.4 132.2,624 148.4,622 164.6,620.4 180.8,620.4 196.9,618.6 213.1,618.6 229.3,618.6 245.5,616.6 261.7,616.6 277.9,616.6 294.1,614.6 310.3,614.6 326.5,613 342.7,611.4 358.9,611.4 375.1,611.4 391.3,611.4 407.5,613 423.7,614.6 439.9,614.6 456.1,616.4 472.3,616.4 488.5,618.6 504.7,620 520.9,621.6 537,621.6 553.2,623.6 569.4,625.4 585.6,625.4 601.8,623.6 618,623.6 634.2,623.6 650.4,623.6 666.6,620 682.8,613 699,607.4 715.2,600.6 731.4,597 747.6,593 763.8,591.4 780,589.6 796.2,589.6 812.4,588 828.6,586 844.8,582.4 860.9,580.4 877.1,577 893.3,575 909.5,573.4 925.7,571.4 941.9,571.4 958.1,571.2 974.3,573.4 990.5,577 1006.7,580.5 1022.9,585.9 1039.1,591.3 1055.3,595 1071.5,600.4 1087.7,604 1103.9,607.5 1120.1,611.2 1136.3,612.9 1152.5,614.8 1168.7,616.6" fill="none" stroke="#0b62d6" stroke-width="2.0" stroke-linejoin="round" stroke-linecap="round"/>
</svg>
<div class="yl" style="top:88.8px">10.26</div>
<div class="yl" style="top:130.3px">9.87</div>
<div class="yl" style="top:182.4px">9.48</div>
<div class="yl" style="top:234.2px">9.08</div>
<div class="yl" style="top:286.1px">8.69</div>
<div class="yl" style="top:338px">8.30</div>
<div class="yl" style="top:379px">7.91</div>
<div class="abs" style="left:766px;top:93px;font-size:20px;line-height:22px;color:#555">10.16</div>
<div class="abs" style="left:598px;top:378px;font-size:20px;line-height:22px;color:#555">8.01</div>
<div class="yl" style="top:435.7px">44.28万</div>
<div class="yl" style="top:506.3px">0.00</div>
<div class="hdr" style="top:401px;height:37.4px"></div>
<div class="hdr" style="top:530.3px;height:36.2px"></div>
<div class="lg" style="left:29.5px;top:407px;color:#666;font-size:20px;letter-spacing:0">成交量</div>
<div class="lg" style="left:95px;top:407px;color:#666;font-size:21px;letter-spacing:0">37560手</div>
<div class="lg" style="left:193.5px;top:407px;color:#ff9100">MA5:42142手</div>
<div class="lg" style="left:331.3px;top:407px;color:#0b62d6">MA10:50073手</div>
<div class="lg lg2" style="left:30px;top:533.5px;color:#666;font-size:20.3px">MACD (12,26,9)</div>
<div class="lg lg2" style="left:201px;top:533.5px;color:#ff9100;font-size:20.3px">DIF:-0.02</div>
<div class="lg lg2" style="left:294px;top:533.5px;color:#0b62d6;font-size:20.3px">DEA:0.03</div>
<div class="lg lg2" style="left:387.5px;top:533.5px;color:#089a36;font-size:20.3px">MACD:-0.10</div>
<div class="cl" style="top:408px"><svg width="21" height="21" viewBox="0 0 21 21" fill="none" stroke="#5f6b7a" stroke-width="1.4" stroke-linecap="round"><path d="M6.4 6.4 L14.6 14.6 M14.6 6.4 L6.4 14.6"/></svg></div>
<div class="cl" style="top:535.8px"><svg width="21" height="21" viewBox="0 0 21 21" fill="none" stroke="#5f6b7a" stroke-width="1.4" stroke-linecap="round"><path d="M6.4 6.4 L14.6 14.6 M14.6 6.4 L6.4 14.6"/></svg></div>
<div class="yl" style="top:562.6px">0.31</div>
<div class="yl" style="top:597.8px">0.04</div>
<div class="yl" style="top:634.7px">-0.22</div>
<div class="abs" style="left:314.7px;top:661.5px;width:120px;text-align:center;font-size:21.4px;line-height:24px;color:#666">2022-07</div>
<div class="abs" style="left:655.1px;top:661.5px;width:120px;text-align:center;font-size:21.4px;line-height:24px;color:#666">2022-08</div>
<div class="abs" style="left:1027.9px;top:661.5px;width:120px;text-align:center;font-size:21.4px;line-height:24px;color:#666">2022-09</div>
<svg class="abs" style="left:0;top:0" width="1199" height="703" viewBox="0 0 1199 703"><line x1="1136.5" y1="92.2" x2="1136.5" y2="403" stroke="#555" stroke-width="2.4" stroke-dasharray="3.5 5.5"/>
<line x1="1136.5" y1="438.6" x2="1136.5" y2="530" stroke="#555" stroke-width="2.4" stroke-dasharray="3.5 5.5"/>
<line x1="1136.5" y1="566.2" x2="1136.5" y2="656.5" stroke="#555" stroke-width="2.4" stroke-dasharray="3.5 5.5"/></svg>
<div class="abs" style="left:29px;top:473px;width:77px;height:28.5px;background:#e9e9e9"></div>
<div class="abs" style="left:31.5px;top:473.7px;font-size:20.6px;line-height:24px;color:#333">20.22万</div>
<div class="abs" style="left:1069.5px;top:660px;width:111.5px;height:28.5px;background:#e9e9eb;overflow:hidden"><span style="position:absolute;left:4px;top:0.7px;font-size:21.4px;line-height:26px;color:#333">2022-09-06</span></div>
<div id="tip">
<div class="r" style="top:10.5px"><i>时间</i><b class="">2022-09-06</b></div>
<div class="r" style="top:42.2px"><i>开盘价</i><b class="">9.03</b></div>
<div class="r" style="top:74.6px"><i>最高价</i><b class="red">9.14</b></div>
<div class="r" style="top:106.2px"><i>最低价</i><b class="grn">8.94</b></div>
<div class="r" style="top:138.7px"><i>收盘价</i><b class="red">9.13</b></div>
<div class="r" style="top:171.4px"><i>涨跌额</i><b class="red">0.10</b></div>
<div class="r" style="top:203.3px"><i>涨跌幅</i><b class="red">1.11%</b></div>
<div class="r" style="top:235.9px"><i>成交量</i><b class="">37560手</b></div>
<div class="r" style="top:268.6px"><i>成交额</i><b class="">3402.25万</b></div>
<div class="r" style="top:301.4px"><i>换手率</i><b class="">1.07%</b></div>
</div>
</body></html>
